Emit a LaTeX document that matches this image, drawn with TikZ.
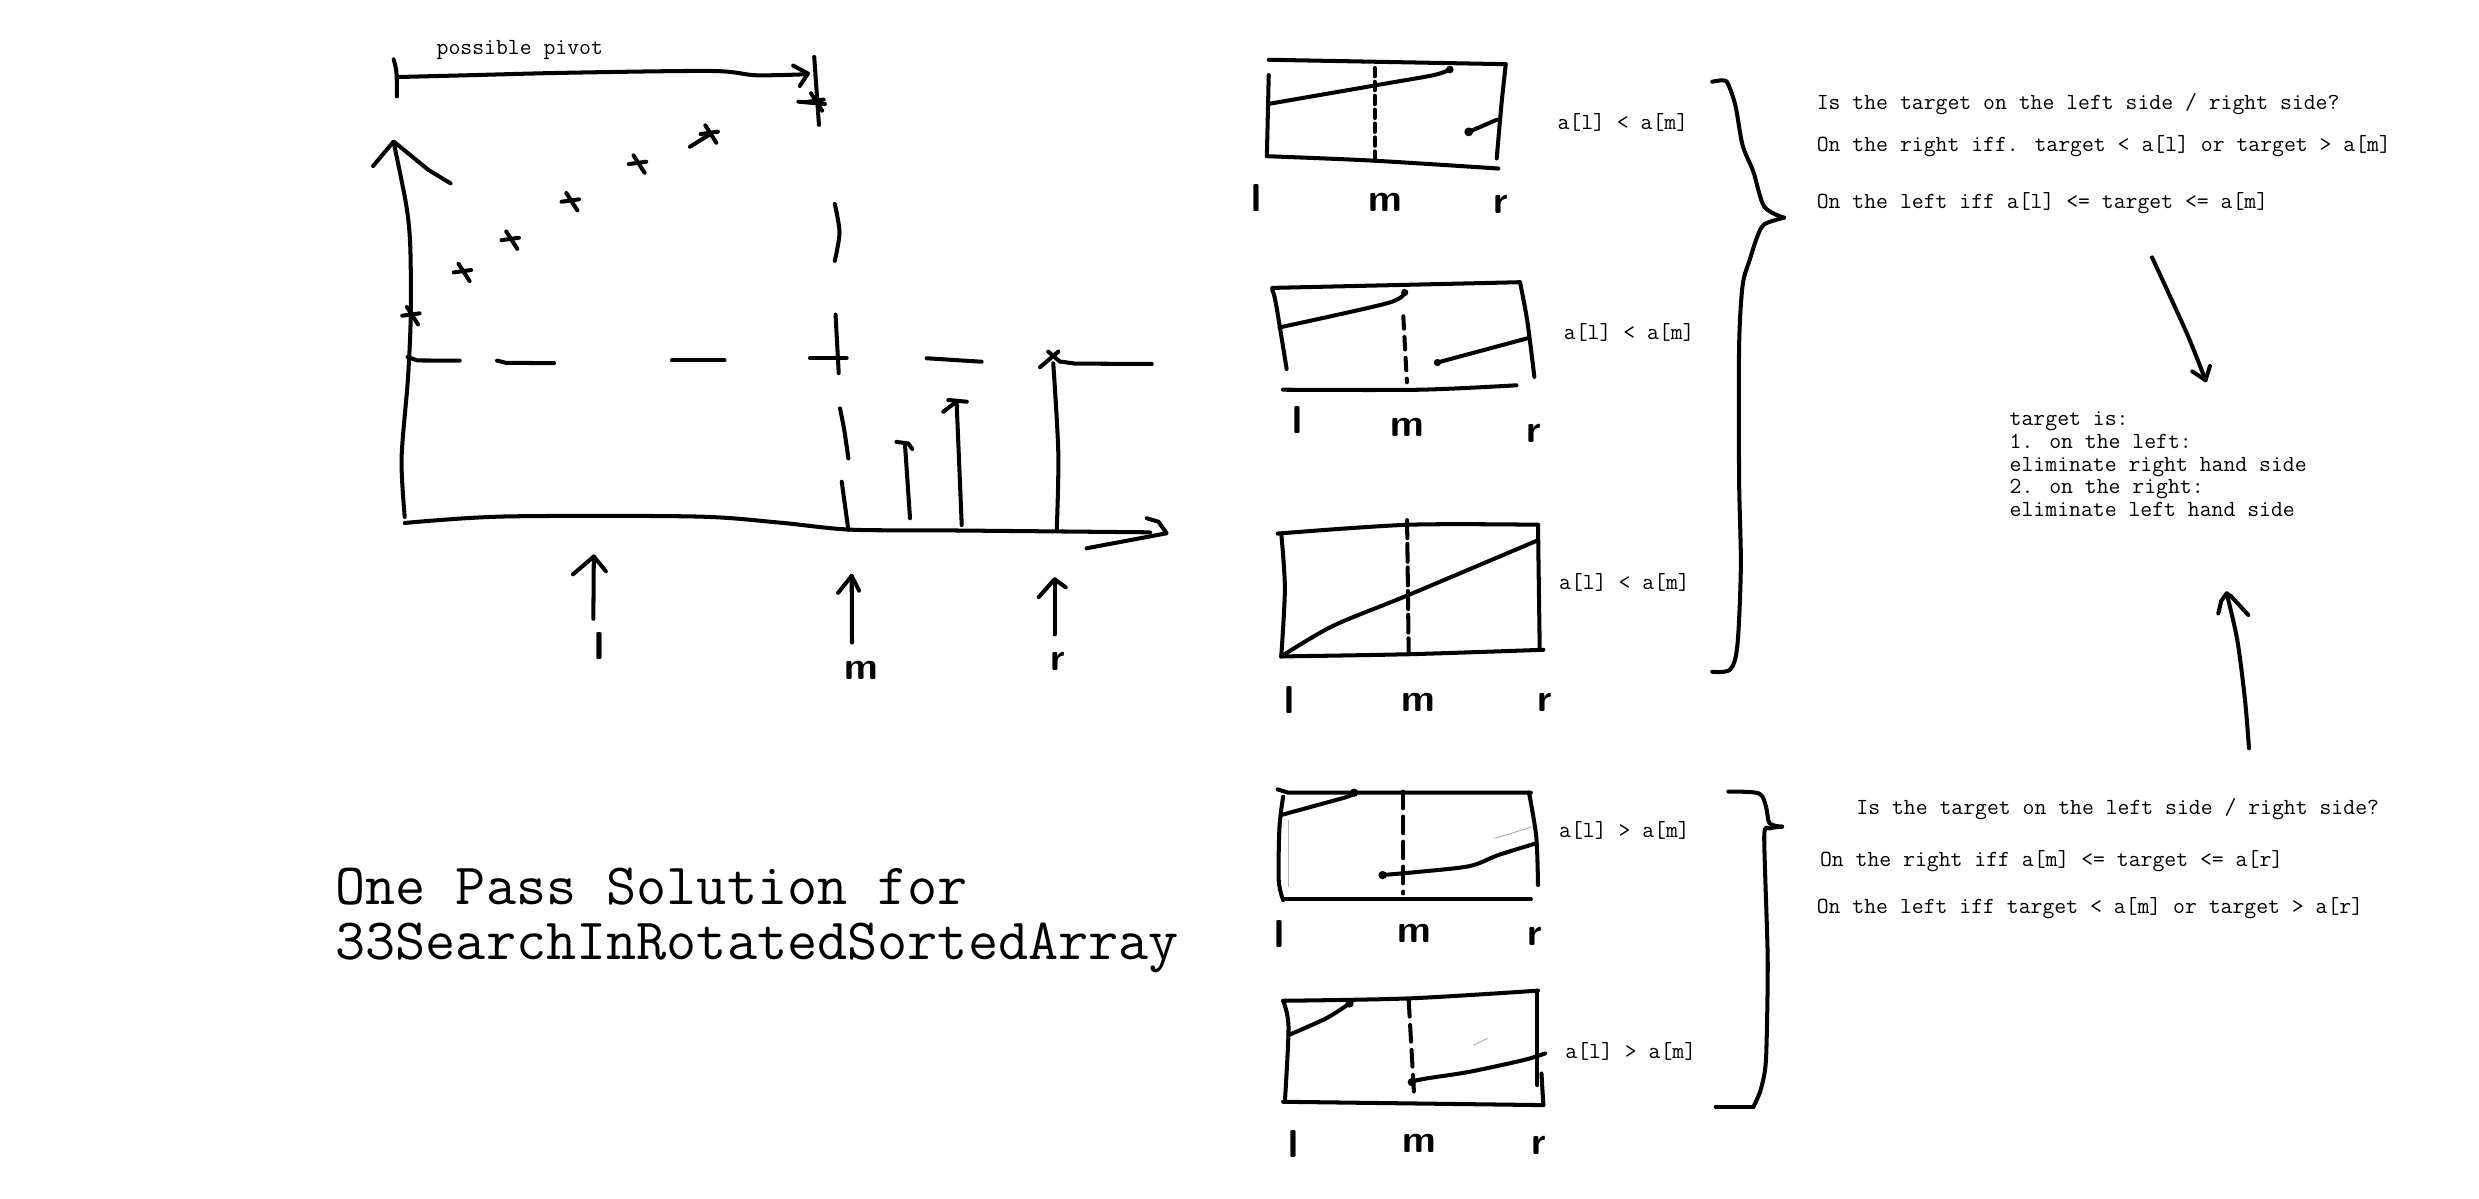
\documentclass[tikz,border=0pt]{standalone}
\newcommand\sketchtt{\ttfamily\fontsize{16.6}{16.3}\selectfont}
\newcommand\sketchtitle{\ttfamily\fontsize{42.1}{39.6}\selectfont}
\newcommand\sketchhand{\sffamily\bfseries\fontsize{28}{28}\selectfont}
\tikzset{
  ink/.style={line width=2.9pt, line cap=round, line join=round},
  faint/.style={line width=0.7pt, gray!60},
  smalltxt/.style={font=\sketchtt, anchor=base west, inner sep=0pt},
  titletxt/.style={font=\sketchtitle, anchor=base west, inner sep=0pt, align=left},
  handlbl/.style={font=\sketchhand, anchor=base, inner sep=0pt},
  inkdot/.style={fill=black, draw=none},
  starmk/.pic={\draw[ink] (-6,0.5) -- (5,-1); \draw[ink] (-3,-5) -- (4,6);}
}
\begin{document}
\begin{tikzpicture}[x=0.04cm, y=-0.04cm]
\fill[white] (0,0) rectangle (1568,758);
\useasboundingbox (0,0) rectangle (1568,758);

% ---------------- left chart ----------------
\node[smalltxt] (pivot) at (276,34.5) {possible pivot};
\draw[ink] (249,37.5) .. controls (251,45) .. (251,61);
\draw[ink] plot[smooth,tension=0.5] coordinates {(252.6,48.7) (296,47.6) (360,46) (450.4,44.9) (478,47.6) (509.3,47)};
\draw[ink] (501.7,41.5) -- (511,46.5) -- (505.9,54.4);
\draw[ink] (515,36) -- (518,79);
\draw[ink] (505,64.3) -- (521.8,65.8);
\pic at (516,64) {starmk};

% y axis
\draw[ink] plot[smooth,tension=0.5] coordinates {(256,327) (254,290) (258,240) (259.8,200) (259.5,156) (257,130) (249,90)};
\draw[ink] (236,105) -- (249,89.5) -- (271,107.5) -- (285,116);

% stars
\pic at (260.4,199.2) {starmk};
\pic at (293,171.8) {starmk};
\pic at (323.2,151.4) {starmk};
\pic at (361.2,127.1) {starmk};
\pic at (403.7,103.3) {starmk};
\pic at (449.1,84.3) {starmk};
\draw[ink] (436.4,92.8) -- (449,85);

% horizontal dashed line
\draw[ink] (257.8,225.8) -- (264,228) -- (290.8,228.1);
\draw[ink] (314.4,228.1) -- (320,229.5) -- (350.4,229.7);
\draw[ink] (425,228) -- (458.3,228);
\draw[ink] (512.3,226.6) -- (535.5,226.6);
\draw[ink] (586.1,226.6) -- (620.9,228.8);
\draw[ink] (671.5,228.8) -- (680,230) -- (728.5,230.2);

% vertical dashed line at m
\draw[ink] plot[smooth] coordinates {(528,129) (531,147) (528,165)};
\draw[ink] (528.5,199) -- (530.5,236);
\draw[ink] plot[smooth] coordinates {(531.3,258.3) (534,272) (536.6,290)};
\draw[ink] (532.4,304.7) -- (536.6,335.2);

% x axis
\draw[ink] plot[smooth,tension=0.5] coordinates {(256,330.8) (318.5,326.7) (440,326.7) (493.4,330.6) (537.6,335) (600,335.5) (727.4,336.7)};
\draw[ink] (725.3,327.8) -- (732.7,330) -- (737.9,337.3) -- (687.3,346.8);

% bars
\draw[ink] (575.6,327.8) -- (572.4,281);
\draw[ink] (567,279.5) -- (574.5,280.5) -- (577,284);
\draw[ink] (608.3,332.1) -- (605.1,255.1);
\draw[ink] (596.6,260.4) -- (605.1,254);
\draw[ink] (599.8,253) -- (611.5,254.1);
\draw[ink] plot[smooth] coordinates {(668.4,335.2) (669.4,286.7) (666.2,229.8)};
\draw[ink] (657.8,232.3) -- (669.4,222.4);
\draw[ink] (663,222.4) -- (670.5,228.8);

% pointers l m r
\draw[ink] (375.3,391.4) -- (375.6,352);
\draw[ink] (362.4,363.3) -- (375.6,352) -- (383.2,361.3);
\node[handlbl] (cl) at (379,417) {l};
\draw[ink] (538.9,406.4) -- (538.7,364.3);
\draw[ink] (530.1,375) -- (538.7,364.3) -- (543.3,373.6);
\node[handlbl] (cm) at (545,430) {m};
\draw[ink] (667,401.3) -- (667,366.4);
\draw[ink] (657,377.7) -- (667,366.4) -- (674.1,371.5);
\node[handlbl] (cr) at (669,424) {r};

% title (base = last line)
\node[titletxt] (title) at (212,607.2) {One Pass Solution for\\33SearchInRotatedSortedArray};

% ---------------- box 1 ----------------
\draw[ink] (802.5,37.8) -- (952.4,40.6);
\draw[ink] (802.5,47.5) -- (801.3,98.8);
\draw[ink] plot[smooth] coordinates {(801.3,98.8) (868.3,101.6) (947.8,106.6)};
\draw[ink] plot[smooth] coordinates {(952.4,40.6) (949.6,66.9) (946.7,100.2)};
\draw[ink, dash pattern=on 6pt off 4pt] (869.5,43) -- (869.5,101.6);
\draw[ink] plot[smooth] coordinates {(803.6,65.5) (875.1,53.1) (906.9,47.5) (917,44)};
\fill[inkdot] (917,44) circle (2.8pt);
\draw[ink] (928.5,83.6) -- (946.7,75.8);
\fill[inkdot] (929,83.4) circle (3.2pt);
\node[handlbl] (b1l) at (795,134) {l};
\node[handlbl] (b1m) at (876,134) {m};
\node[handlbl] (b1r) at (949,135) {r};
\node[smalltxt] (c1) at (985,82) {a[l] < a[m]};

% ---------------- box 2 ----------------
\draw[ink] (804.7,182.1) -- (961.4,178.5);
\draw[ink] plot[smooth] coordinates {(804.7,183.5) (807,191.8) (813.8,233.4)};
\draw[ink] plot[smooth] coordinates {(811.5,246.5) (897.9,246.5) (959.2,243.7)};
\draw[ink] plot[smooth] coordinates {(961.4,178.5) (966,202.9) (970.5,238.4)};
\draw[ink, dash pattern=on 9pt off 6pt] (887.6,200) -- (889.9,241.8);
\draw[ink] plot[smooth] coordinates {(809.3,207.1) (877.4,191.8) (888.5,185)};
\fill[inkdot] (888.5,185) circle (2.6pt);
\draw[ink] (909.2,229.3) -- (966,214.0);
\fill[inkdot] (909.2,229.3) circle (2.6pt);
\node[handlbl] (b2l) at (820.5,274) {l};
\node[handlbl] (b2m) at (890,276) {m};
\node[handlbl] (b2r) at (970,280) {r};
\node[smalltxt] (c2) at (989,215) {a[l] < a[m]};

% ---------------- box 3 ----------------
\draw[ink] plot[smooth] coordinates {(808.1,337.5) (891,331.9) (972.8,331.9)};
\draw[ink] plot[smooth] coordinates {(810.4,337.5) (812.7,372.2) (810.4,415.2)};
\draw[ink] plot[smooth] coordinates {(810.4,415.2) (891,413.8) (976.2,411.0)};
\draw[ink] (972.8,331.9) -- (973.9,411.0);
\draw[ink, dash pattern=on 13pt off 4pt] (890,329) -- (891,413.8);
\draw[ink] plot[smooth] coordinates {(810.4,415.2) (843.3,395.8) (891,376.3) (972.8,341.7)};
\node[handlbl] (b3l) at (815.5,451) {l};
\node[handlbl] (b3m) at (897,450) {m};
\node[handlbl] (b3r) at (977,450) {r};
\node[smalltxt] (c3) at (986,373) {a[l] < a[m]};

% brace 1
\draw[ink] plot[smooth,tension=0.5] coordinates {(1083,51.7) (1090,50.8) (1093,53.1) (1097.7,66.9) (1102.2,91.9) (1109,108.6) (1115.9,130.7) (1128.4,137.7)};
\draw[ink] plot[smooth,tension=0.5] coordinates {(1128.4,137.7) (1115.9,141.9) (1111.3,150.2) (1106.8,164.1) (1102.2,180.7) (1100,219.6) (1100,302.8) (1101.1,358.3) (1098.9,408.3) (1094.3,423.5) (1083,424.9)};

% ---------------- box 4 ----------------
\draw[ink] (808.1,499.3) -- (815,501.4) -- (968.3,501.4);
\draw[ink] plot[smooth] coordinates {(811.6,503.9) (809.3,522.9) (808.8,556.6) (811.6,569.3)};
\draw[ink] (811.6,568.9) -- (968.3,568.9);
\draw[ink] plot[smooth] coordinates {(967.1,501.4) (971.7,529.2) (972.8,559.8)};
\draw[ink, dash pattern=on 12pt off 6pt] (887.6,500.7) -- (887.6,565.1);
\draw[ink] plot[smooth] coordinates {(810.4,515.5) (829.7,510.2) (852.4,503.9) (856.5,501.4)};
\fill[inkdot] (856.5,501.4) circle (3pt);
\draw[ink] plot[smooth] coordinates {(874,553.5) (897.9,551.4) (929.6,547.8) (947.8,540.8) (971.7,533.4)};
\fill[inkdot] (874.5,553.5) circle (3pt);
\draw[faint] (945.5,530.3) -- (969.4,522.9);
\draw[faint] (815,518.7) -- (815,560.8);
\node[handlbl] (b4l) at (809,599) {l};
\node[handlbl] (b4m) at (894.5,596) {m};
\node[handlbl] (b4r) at (970.5,598) {r};
\node[smalltxt] (c4) at (986,529.5) {a[l] > a[m]};

% ---------------- box 5 ----------------
\draw[ink] plot[smooth] coordinates {(811.6,633) (891,631.5) (972.8,626.6)};
\draw[ink] plot[smooth] coordinates {(811.6,633) (815,649.4) (812.7,696.9)};
\draw[ink] (811.6,696.9) -- (976.2,699);
\draw[ink] (972.3,626.6) -- (972.3,686.3);
\draw[ink] (975,679) -- (976.2,699);
\draw[ink, dash pattern=on 12pt off 6pt] (891,632.5) -- (894.5,693.7);
\draw[ink] plot[smooth] coordinates {(815,654.7) (838.8,644.1) (853.6,634.7)};
\fill[inkdot] (853.6,634.7) circle (3pt);
\draw[ink] plot[smooth] coordinates {(892.2,684.2) (902.4,682.1) (929.6,677.9) (963.7,670.5) (977.3,666.3)};
\fill[inkdot] (893,684.5) circle (3pt);
\draw[faint] (931.9,661) -- (941,656.8);
\node[handlbl] (b5l) at (818,732) {l};
\node[handlbl] (b5m) at (898,729) {m};
\node[handlbl] (b5r) at (973,730) {r};
\node[smalltxt] (c5) at (990,669.5) {a[l] > a[m]};

% brace 2
\draw[ink] plot[smooth,tension=0.5] coordinates {(1093.2,500.7) (1112.4,501.8) (1117,510.2) (1119.3,520.8) (1127.2,522.9)};
\draw[ink] plot[smooth,tension=0.4] coordinates {(1127.2,522.9) (1119.3,524) (1115.9,529.2) (1118.1,607.2) (1117,670.5) (1113.6,689.5) (1109.1,700)};
\draw[ink] (1109.1,700) -- (1085.2,700);

% ---------------- right texts ----------------
\node[smalltxt] (q1) at (1149,69) {Is the target on the left side / right side?};
\node[smalltxt] (q1r) at (1149,96) {On the right iff. target < a[l] or target > a[m]};
\node[smalltxt] (q1l) at (1149,132) {On the left iff a[l] <= target <= a[m]};

% multi-line node: base anchor is the last line's baseline
\node[smalltxt, align=left] (res) at (1271,326.7) {target is:\\1. on the left:\\eliminate right hand side\\2. on the right:\\eliminate left hand side};

\coordinate (dnS) at (1361.2,162.8);
\coordinate (dnE) at (1395,240.5);
\draw[ink] plot[smooth] coordinates {(dnS) (1383.4,211.3) (dnE)};
\draw[ink] (1386.6,234.9) -- (dnE) -- (1397.8,231.5);

\coordinate (upS) at (1422.5,473.3);
\coordinate (upE) at (1408.4,375.3);
\draw[ink] plot[smooth] coordinates {(upS) (1420,442.8) (1415.1,404.8) (upE)};
\draw[ink] (1403.1,388) -- (1405,380) -- (upE) -- (1411,377) -- (1422.1,389);

\node[smalltxt] (q2) at (1174,515) {Is the target on the left side / right side?};
\node[smalltxt] (q2r) at (1151,548) {On the right iff a[m] <= target <= a[r]};
\node[smalltxt] (q2l) at (1149,578) {On the left iff target < a[m] or target > a[r]};
\end{tikzpicture}
\end{document}
